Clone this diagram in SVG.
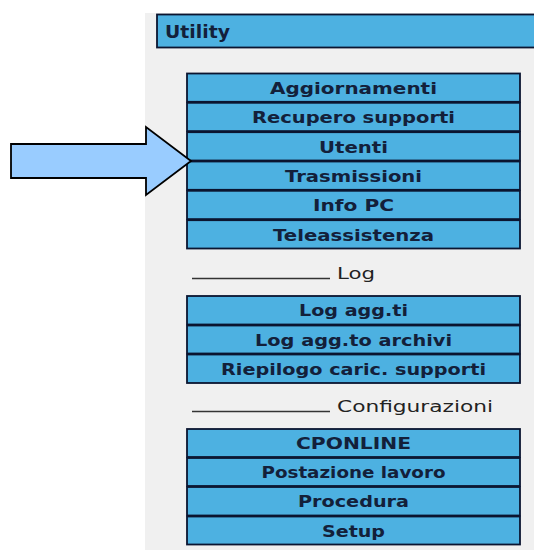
<svg xmlns="http://www.w3.org/2000/svg" width="534" height="550" viewBox="0 0 534 550">
<style>
.btn rect{fill:#4db1e1;stroke:#0b1530;stroke-width:1.8}
.btn text{font-family:"DejaVu Sans","Liberation Sans",sans-serif;font-weight:bold;font-size:16.5px;fill:#13203a;text-anchor:middle}
.sec text{font-family:"DejaVu Sans","Liberation Sans",sans-serif;font-size:16px;fill:#222}
.sec line{stroke:#333;stroke-width:1.5}
</style>
<rect x="0" y="0" width="534" height="550" fill="#ffffff"/>
<rect x="145" y="13" width="389" height="537" fill="#f0f0f0"/>
<g id="utility" class="btn">
<rect x="157" y="14.5" width="390" height="33"/>
<text x="165" y="38" style="text-anchor:start;font-size:17px" textLength="65" lengthAdjust="spacingAndGlyphs">Utility</text>
</g>
<g id="aggiornamenti" class="btn"><rect x="187" y="73.5" width="333" height="28.3"/><text x="353.5" y="94" textLength="167" lengthAdjust="spacingAndGlyphs">Aggiornamenti</text></g>
<g id="recupero" class="btn"><rect x="187" y="102.8" width="333" height="28.3"/><text x="353.5" y="123.3" textLength="203" lengthAdjust="spacingAndGlyphs">Recupero supporti</text></g>
<g id="utenti" class="btn"><rect x="187" y="132.2" width="333" height="28.3"/><text x="353.5" y="152.7" textLength="69" lengthAdjust="spacingAndGlyphs">Utenti</text></g>
<g id="trasmissioni" class="btn"><rect x="187" y="161.5" width="333" height="28.3"/><text x="353.5" y="182" textLength="137" lengthAdjust="spacingAndGlyphs">Trasmissioni</text></g>
<g id="infopc" class="btn"><rect x="187" y="190.8" width="333" height="28.3"/><text x="353.5" y="211.3" textLength="81" lengthAdjust="spacingAndGlyphs">Info PC</text></g>
<g id="teleassistenza" class="btn"><rect x="187" y="220.2" width="333" height="28.3"/><text x="353.5" y="240.7" textLength="161" lengthAdjust="spacingAndGlyphs">Teleassistenza</text></g>
<g id="log" class="sec"><line x1="192" y1="278.5" x2="330" y2="278.5"/><text x="337" y="279" textLength="38" lengthAdjust="spacingAndGlyphs">Log</text></g>
<g id="logaggti" class="btn"><rect x="187" y="296" width="333" height="28.5"/><text x="353.5" y="316" textLength="109" lengthAdjust="spacingAndGlyphs">Log agg.ti</text></g>
<g id="logaggtoarchivi" class="btn"><rect x="187" y="325.5" width="333" height="28"/><text x="353.5" y="345.5" textLength="197" lengthAdjust="spacingAndGlyphs">Log agg.to archivi</text></g>
<g id="riepilogo" class="btn"><rect x="187" y="354.5" width="333" height="28.5"/><text x="353.5" y="374.5" textLength="265" lengthAdjust="spacingAndGlyphs">Riepilogo caric. supporti</text></g>
<g id="configurazioni" class="sec"><line x1="192" y1="411.5" x2="330" y2="411.5"/><text x="337" y="412" textLength="156" lengthAdjust="spacingAndGlyphs">Configurazioni</text></g>
<g id="cponline" class="btn"><rect x="187" y="429" width="333" height="28"/><text x="353.5" y="449" textLength="115" lengthAdjust="spacingAndGlyphs">CPONLINE</text></g>
<g id="postazione" class="btn"><rect x="187" y="458" width="333" height="28"/><text x="353.5" y="478" textLength="184" lengthAdjust="spacingAndGlyphs">Postazione lavoro</text></g>
<g id="procedura" class="btn"><rect x="187" y="487" width="333" height="28.5"/><text x="353.5" y="507" textLength="111" lengthAdjust="spacingAndGlyphs">Procedura</text></g>
<g id="setup" class="btn"><rect x="187" y="516.5" width="333" height="28"/><text x="353.5" y="536.5" textLength="63" lengthAdjust="spacingAndGlyphs">Setup</text></g>
<g id="connectors">
<polygon points="11,144 146,144 146,127 191,161 146,195 146,178 11,178" fill="#99ccff" stroke="#000" stroke-width="1.8" stroke-linejoin="miter"/>
</g>
</svg>
